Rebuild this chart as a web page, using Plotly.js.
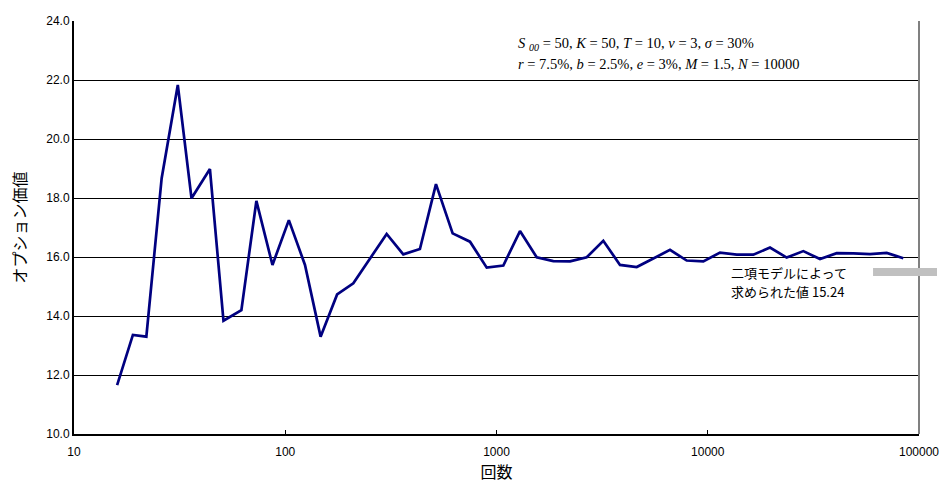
<!DOCTYPE html>
<html>
<head>
<meta charset="utf-8">
<script src="https://cdn.plot.ly/plotly-3.0.1.min.js"></script>
<style>html,body{margin:0;padding:0;background:#fff;}#chart{width:940px;height:483px;}</style>
</head>
<body>
<div id="chart"></div>
<script>
// 回数 (number of trials) and option values
const trials = [16, 19, 22, 26, 31, 36, 44, 51, 62, 73, 87, 104, 124, 147, 176, 210, 252, 302, 362, 434,
  517, 620, 749, 899, 1077, 1292, 1550, 1857, 2228, 2673, 3203, 3842, 4610, 5525, 6627, 7951, 9529,
  11429, 13713, 16430, 19710, 23640, 28340, 34000, 40780, 48880, 58610, 70330, 84290];
const optionValues = [11.66, 13.36, 13.30, 18.67, 21.83, 17.99, 18.98, 13.84, 14.20, 17.90, 15.73, 17.25,
  15.73, 13.30, 14.73, 15.11, 15.95, 16.78, 16.09, 16.27, 18.47, 16.80, 16.52, 15.64, 15.71, 16.88,
  15.99, 15.86, 15.85, 15.99, 16.55, 15.73, 15.66, 15.96, 16.24, 15.88, 15.85, 16.15, 16.08, 16.08,
  16.32, 15.98, 16.20, 15.93, 16.13, 16.12, 16.10, 16.14, 15.96];
const xTickVals = [10, 100, 1000, 10000, 100000];
const xTickText = ['10', '100', '1000', '10000', '100000'];
const yTickVals = [10, 12, 14, 16, 18, 20, 22, 24];
const yTickText = ['10.0', '12.0', '14.0', '16.0', '18.0', '20.0', '22.0', '24.0'];
const binomialLine1 = '二項モデルによって';
const binomialLine2 = '求められた値 15.24';
const paramLine1 = '<i>S</i> <sub><i>00</i></sub> = 50, <i>K</i> = 50, <i>T</i> = 10, <i>ν</i> = 3, <i>σ</i> = 30%';
const paramLine2 = '<i>r</i> = 7.5%, <i>b</i> = 2.5%, <i>e</i> = 3%, <i>M</i> = 1.5, <i>N</i> = 10000';

const sans = 'Liberation Sans, Arial, sans-serif';
const jp = 'Noto Sans CJK JP, sans-serif';
const serif = 'Liberation Serif, Times New Roman, serif';

const trace = {
  x: trials, y: optionValues, type: 'scatter', mode: 'lines',
  line: {color: '#000080', width: 2.7}, hoverinfo: 'skip'
};

const layout = {
  width: 940, height: 483,
  margin: {l: 74, r: 21, t: 21, b: 49},
  paper_bgcolor: '#fff', plot_bgcolor: '#fff',
  showlegend: false,
  xaxis: {
    type: 'log', range: [1, 5],
    tickvals: xTickVals, ticktext: xTickText,
    ticks: 'inside', ticklen: 4, tickcolor: '#000', tickwidth: 1,
    ticklabelstandoff: 6,
    showgrid: false, zeroline: false,
    showline: true, linecolor: '#000', linewidth: 2,
    tickfont: {family: sans, size: 12, color: '#000'},
    title: {text: '回数', font: {family: jp, size: 16, color: '#000'}, standoff: 4}
  },
  yaxis: {
    range: [10, 24], tickvals: yTickVals, ticktext: yTickText,
    ticks: '', showgrid: true, gridcolor: '#000', gridwidth: 1,
    zeroline: false, showline: true, linecolor: '#000', linewidth: 2,
    tickfont: {family: sans, size: 12, color: '#000'},
    title: {text: 'オプション価値', font: {family: jp, size: 16, color: '#000'}, standoff: 16}
  },
  shapes: [
    {type: 'line', xref: 'paper', yref: 'paper', x0: 1, x1: 1, y0: 0, y1: 1,
     line: {color: '#808080', width: 2}},
    {type: 'rect', xref: 'paper', yref: 'paper', x0: 0.9456, x1: 1.0213, y0: 0.3826, y1: 0.4019,
     fillcolor: '#c0c0c0', line: {width: 0}}
  ],
  annotations: [
    {xref: 'paper', yref: 'paper', x: (516 - 74) / 845, y: (434 - 44) / 413, xanchor: 'left', yanchor: 'middle',
     text: paramLine1, showarrow: false, align: 'left', font: {family: serif, size: 14.5, color: '#000'}},
    {xref: 'paper', yref: 'paper', x: (516 - 74) / 845, y: (434 - 64) / 413, xanchor: 'left', yanchor: 'middle',
     text: paramLine2, showarrow: false, align: 'left', font: {family: serif, size: 14.5, color: '#000'}},
    {xref: 'paper', yref: 'paper', x: (729 - 74) / 845, y: (434 - 272) / 413, xanchor: 'left', yanchor: 'middle',
     text: binomialLine1, showarrow: false, align: 'left', font: {family: jp, size: 13, color: '#000'}},
    {xref: 'paper', yref: 'paper', x: (729 - 74) / 845, y: (434 - 291) / 413, xanchor: 'left', yanchor: 'middle',
     text: binomialLine2, showarrow: false, align: 'left', font: {family: jp, size: 13, color: '#000'}}
  ]
};

Plotly.newPlot('chart', [trace], layout, {displayModeBar: false, staticPlot: true});
</script>
</body>
</html>
